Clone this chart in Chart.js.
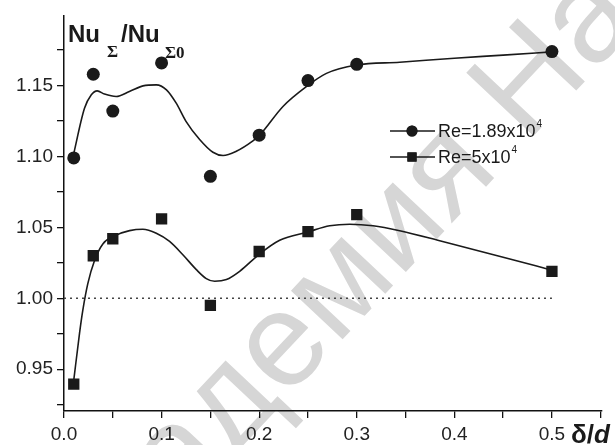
<!DOCTYPE html>
<html>
<head>
<meta charset="utf-8">
<script src="https://cdn.jsdelivr.net/npm/chart.js@4/dist/chart.umd.min.js"></script>
<style>
  html, body { margin: 0; padding: 0; background: #fff; }
  #wrap { width: 615px; height: 445px; }
</style>
</head>
<body>
<div id="wrap"><canvas id="c" width="615" height="445"></canvas></div>
<script>
// Measured points: relative gap δ/d against Nu_Σ/Nu_Σ0
const gapRatio   = [0.01, 0.03, 0.05, 0.10, 0.15, 0.20, 0.25, 0.30, 0.50];
const nuRe189e4  = [1.099, 1.158, 1.132, 1.166, 1.086, 1.115, 1.1535, 1.165, 1.174];
const nuRe5e4    = [0.9395, 1.030, 1.042, 1.056, 0.995, 1.033, 1.047, 1.059, 1.019];

// Smoothed trend curves drawn through each data set
const fitRe189e4X = [0.009, 0.021, 0.028, 0.034, 0.0415, 0.0535, 0.067, 0.081, 0.0946, 0.105, 0.115, 0.125, 0.139, 0.1526, 0.163, 0.1766, 0.1936, 0.2, 0.2244, 0.2484, 0.2689, 0.2997, 0.344, 0.40, 0.45, 0.50];
const fitRe189e4Y = [1.099, 1.134, 1.1435, 1.1463, 1.144, 1.1423, 1.1458, 1.1498, 1.1505, 1.147, 1.1376, 1.1248, 1.112, 1.103, 1.1007, 1.1037, 1.111, 1.1147, 1.1353, 1.1493, 1.1586, 1.1645, 1.1665, 1.1693, 1.1715, 1.1738];

const fitRe5e4X = [0.0097, 0.0159, 0.0193, 0.0244, 0.0313, 0.0398, 0.0518, 0.0672, 0.0808, 0.0946, 0.1082, 0.1218, 0.1356, 0.1458, 0.1544, 0.1664, 0.18, 0.2, 0.221, 0.25, 0.2723, 0.2928, 0.3167, 0.344, 0.385, 0.45, 0.50];
const fitRe5e4Y = [0.9405, 0.9752, 0.9916, 1.0103, 1.0266, 1.0383, 1.044, 1.0477, 1.0487, 1.0459, 1.0401, 1.0307, 1.0202, 1.0139, 1.012, 1.0132, 1.019, 1.031, 1.0409, 1.0468, 1.0511, 1.0522, 1.0511, 1.0476, 1.0406, 1.029, 1.0198];

// Reference level Nu_Σ/Nu_Σ0 = 1
const baselineX = [0.0, 0.5];
const baselineY = [1.0, 1.0];

const xTickLabels = ['0.0', '0.1', '0.2', '0.3', '0.4', '0.5'];
const yTickLabels = ['0.95', '1.00', '1.05', '1.10', '1.15'];

const seriesNames = ['Re=1.89x10', 'Re=5x10'];
const seriesExp = ['4', '4'];

const pts = (xs, ys) => xs.map((x, i) => ({ x, y: ys[i] }));

const SANS = '"Liberation Sans", Arial, sans-serif';
const SERIF = '"Liberation Serif", "Times New Roman", serif';
const INK = '#1a1a1a';

const overlay = {
  id: 'overlay',
  beforeDraw(chart) {
    const ctx = chart.ctx;
    ctx.save();
    ctx.fillStyle = '#ffffff';
    ctx.fillRect(0, 0, chart.width, chart.height);
    // faint diagonal stamp behind the plot, sized so "д" and the last "а" land where wanted
    const stamp = 'Академия На';
    ctx.font = '100px ' + SANS;
    const wd = ctx.measureText('д').width;
    const wa = ctx.measureText('а').width;
    const span100 = ctx.measureText('Академия На').width - wa / 2 - ctx.measureText('Ака').width - wd / 2;
    const size = 100 * 525 / span100;
    ctx.font = size + 'px ' + SANS;
    const off = ctx.measureText('Ака').width + ctx.measureText('д').width / 2;
    ctx.translate(233, 405);
    ctx.rotate(-46.8 * Math.PI / 180);
    ctx.fillStyle = '#d6d6d6';
    ctx.textBaseline = 'alphabetic';
    ctx.fillText(stamp, -off, 0.26 * size);
    ctx.restore();
  },
  afterDraw(chart) {
    const ctx = chart.ctx;
    ctx.save();
    ctx.fillStyle = INK;
    ctx.textBaseline = 'alphabetic';
    // axis title Nu_Σ/Nu_Σ0
    ctx.font = 'bold 24px ' + SANS;
    ctx.fillText('Nu', 68, 42);
    ctx.fillText('/Nu', 121, 42);
    ctx.font = 'bold 17px ' + SERIF;
    ctx.fillText('Σ', 107, 57);
    ctx.fillText('Σ0', 165, 58);
    // x-axis name δ/d
    ctx.font = 'bold 26px ' + SANS;
    ctx.fillText('δ/', 571, 443);
    const w = ctx.measureText('δ/').width;
    ctx.font = 'italic bold 26px ' + SANS;
    ctx.fillText('d', 571 + w, 443);
    // legend
    const rows = [131, 157];
    [0, 1].forEach(i => {
      const ds = chart.data.datasets[i];
      const y = rows[i];
      ctx.strokeStyle = INK;
      ctx.lineWidth = 1.5;
      ctx.beginPath();
      ctx.moveTo(390, y); ctx.lineTo(435, y);
      ctx.stroke();
      ctx.fillStyle = INK;
      Chart.helpers.drawPoint(ctx, {
        pointStyle: ds.pointStyle, radius: i === 0 ? 5.5 : 6.5, rotation: 0, borderWidth: 0
      }, 412, y);
      ctx.fill();
      ctx.font = '18px ' + SANS;
      ctx.textBaseline = 'middle';
      ctx.fillText(seriesNames[i], 438, y + 1);
      const tw = ctx.measureText(seriesNames[i]).width;
      ctx.font = '10px ' + SANS;
      ctx.fillText(seriesExp[i], 438 + tw + 1, y - 7);
    });
    ctx.restore();
  }
};

new Chart(document.getElementById('c'), {
  type: 'scatter',
  data: {
    datasets: [
      {
        label: seriesNames[0], data: pts(gapRatio, nuRe189e4),
        pointStyle: 'circle', pointRadius: 6.5, backgroundColor: INK, borderColor: INK, borderWidth: 0,
        showLine: false, order: 0
      },
      {
        label: seriesNames[1], data: pts(gapRatio, nuRe5e4),
        pointStyle: 'rect', pointRadius: 8, backgroundColor: INK, borderColor: INK, borderWidth: 0,
        showLine: false, order: 0
      },
      {
        data: pts(fitRe189e4X, fitRe189e4Y), showLine: true, pointRadius: 0,
        borderColor: INK, borderWidth: 1.6, cubicInterpolationMode: 'monotone', order: 1
      },
      {
        data: pts(fitRe5e4X, fitRe5e4Y), showLine: true, pointRadius: 0,
        borderColor: INK, borderWidth: 1.6, cubicInterpolationMode: 'monotone', order: 1
      },
      {
        data: pts(baselineX, baselineY), showLine: true, pointRadius: 0,
        borderColor: '#444', borderWidth: 1.4, borderDash: [2, 4], order: 2
      }
    ]
  },
  options: {
    responsive: false,
    animation: false,
    devicePixelRatio: 1,
    layout: { padding: { top: 13, right: 13, left: 0, bottom: 0 } },
    plugins: { legend: { display: false }, tooltip: { enabled: false } },
    scales: {
      x: {
        type: 'linear', min: 0, max: 0.5513,
        afterFit(s) { s.height = 34; },
        ticks: {
          stepSize: 0.05, includeBounds: false, autoSkip: false, maxRotation: 0, padding: 5,
          color: '#222', font: { family: SANS, size: 19 },
          callback(v) {
            const k = Math.round(v * 20);
            return k % 2 === 0 && xTickLabels[k / 2] ? xTickLabels[k / 2] : '';
          }
        },
        grid: { display: true, drawOnChartArea: false, drawTicks: true, tickLength: 7, color: '#111', lineWidth: 1.3 },
        border: { display: true, color: '#111', width: 1.5 }
      },
      y: {
        type: 'linear', min: 0.9205, max: 1.1995,
        afterFit(s) { s.width = 64; },
        ticks: {
          stepSize: 0.025, includeBounds: false, autoSkip: false, padding: 4,
          color: '#222', font: { family: SANS, size: 19 },
          callback(v) {
            const k = Math.round(v * 40);
            if (k % 2 !== 0) return '';
            const idx = Math.round((v - 0.95) / 0.05);
            return yTickLabels[idx] || '';
          }
        },
        grid: { display: true, drawOnChartArea: false, drawTicks: true, tickLength: 7, color: '#111', lineWidth: 1.3 },
        border: { display: true, color: '#111', width: 1.5 }
      }
    }
  },
  plugins: [overlay]
});
</script>
</body>
</html>
